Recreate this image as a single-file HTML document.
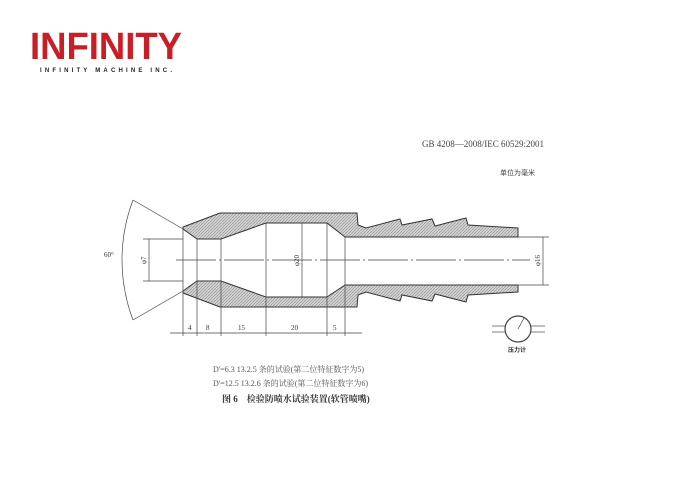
<!DOCTYPE html>
<html><head><meta charset="utf-8"><style>
html,body{margin:0;padding:0;background:#fff;}
body{width:694px;height:490px;position:relative;overflow:hidden;font-family:"Liberation Sans","Noto Sans CJK SC",sans-serif;}
</style></head><body>
<svg width="694" height="490" viewBox="0 0 694 490" xmlns="http://www.w3.org/2000/svg">
<defs>
<pattern id="h" width="3" height="3" patternUnits="userSpaceOnUse"><rect width="3" height="3" fill="#d4d4d4"/><path d="M0,3 L3,0" stroke="#888" stroke-width="0.6"/></pattern>
</defs>
<text x="30" y="59" font-family="Liberation Sans,sans-serif" font-weight="bold" font-size="38" fill="#c81e28" textLength="152" lengthAdjust="spacingAndGlyphs">INFINITY</text>
<text x="40" y="72" font-family="Liberation Sans,sans-serif" font-weight="bold" font-size="6" fill="#222" textLength="132" lengthAdjust="spacing">INFINITY MACHINE INC.</text>
<text x="422" y="147" font-family="Liberation Serif,serif" font-size="9" fill="#444">GB 4208—2008/IEC 60529:2001</text>
<text x="500" y="175" font-family="Liberation Sans,'Noto Sans CJK SC',sans-serif" font-size="7" fill="#444">单位为毫米</text>
<g stroke="#333" stroke-width="1" fill="url(#h)">
<path d="M183,227 L220,213 L357,213 L358,225 L366,228 L400,219 L402,225 L432,219 L435,226 L466,218 L468,225 L518,228 L518,237 L345,237 L327,223 L266,223 L221,239 L197,239 L183,229 Z"/>
<path d="M183,293 L220,307 L357,307 L358,295 L366,292 L400,301 L402,295 L432,301 L435,294 L466,302 L468,295 L518,292 L518,285 L345,285 L327,297 L266,297 L221,281 L197,281 L183,291 Z"/>
</g>
<g stroke="#444" stroke-width="0.7" fill="none">
<line x1="183" y1="229" x2="183" y2="336"/>
<line x1="197" y1="239" x2="197" y2="336"/>
<line x1="221" y1="239" x2="221" y2="336"/>
<line x1="266" y1="223" x2="266" y2="336"/>
<line x1="327" y1="223" x2="327" y2="336"/>
<line x1="345" y1="237" x2="345" y2="336"/>
<line x1="170" y1="333" x2="362" y2="333"/>
<line x1="176" y1="260" x2="530" y2="260" stroke-dasharray="40,3,2,3"/>
<line x1="183" y1="229" x2="133" y2="200"/>
<line x1="183" y1="291" x2="133" y2="320"/>
<path d="M133,200 A169,169 0 0 0 133,320"/>
<line x1="143" y1="239" x2="183" y2="239"/>
<line x1="143" y1="281" x2="183" y2="281"/>
<line x1="149" y1="239" x2="149" y2="281"/>
<line x1="302" y1="223" x2="302" y2="297"/>
<line x1="518" y1="237" x2="549" y2="237"/>
<line x1="518" y1="285" x2="549" y2="285"/>
<line x1="543" y1="237" x2="543" y2="285"/>
<circle cx="518" cy="329" r="13" stroke-width="1.2"/>
<line x1="518" y1="329" x2="524" y2="318"/>
<line x1="492" y1="326" x2="505" y2="326"/><line x1="492" y1="332" x2="506" y2="332"/>
<line x1="531" y1="326" x2="545" y2="326"/><line x1="530" y1="332" x2="545" y2="332"/>
</g>
<g font-family="Liberation Serif,serif" font-size="7" fill="#333">
<text x="188" y="330">4</text><text x="206" y="330">8</text><text x="238" y="330">15</text><text x="291" y="330">20</text><text x="333" y="330">5</text>
<text x="104" y="257">60°</text>
<text transform="translate(146,264) rotate(-90)">φ7</text>
<text transform="translate(299,266) rotate(-90)">φ20</text>
<text transform="translate(540,266) rotate(-90)">φ16</text>
</g>
<text x="508" y="352" font-family="'Noto Sans CJK SC',sans-serif" font-size="6" font-weight="bold" fill="#333">压力计</text>
<g font-family="Liberation Serif,'Noto Serif CJK SC',serif" font-size="8" fill="#555">
<text x="213" y="372">D'=6.3 13.2.5 条的试验(第二位特征数字为5)</text>
<text x="213" y="386">D'=12.5 13.2.6 条的试验(第二位特征数字为6)</text>
<text x="222" y="402" font-size="9" font-weight="bold" fill="#333">图 6　检验防喷水试验装置(软管喷嘴)</text>
</g>
</svg>
</body></html>
